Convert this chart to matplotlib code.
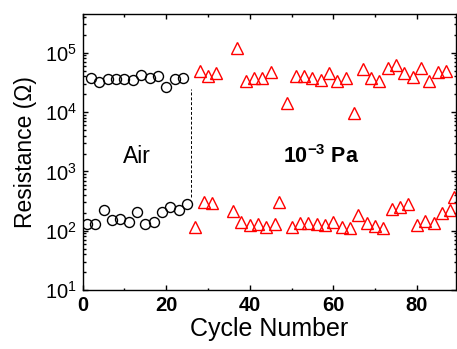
import matplotlib
matplotlib.use("Agg")
import matplotlib.pyplot as plt
from matplotlib.ticker import LogLocator, NullFormatter, MultipleLocator

plt.rcParams["font.family"] = ["Liberation Sans", "DejaVu Sans"]
plt.rcParams["mathtext.fontset"] = "custom"
plt.rcParams["mathtext.rm"] = "Liberation Sans"
plt.rcParams["mathtext.bf"] = "Liberation Sans:bold"
plt.rcParams["mathtext.default"] = "bf"

# air, high / low resistance
air_high_x = [2, 4, 6, 8, 10, 12, 14, 16, 18, 20, 22, 24]
air_high_r = [37600, 31700, 36000, 36000, 36000, 34700, 42000, 37000, 39900, 26000, 36000, 37600]
air_low_x = [1, 3, 5, 7, 9, 11, 13, 15, 17, 19, 21, 23, 25]
air_low_r = [132, 128, 221, 150, 160, 141, 207, 132, 141, 207, 251, 221, 279]

# vacuum (10^-3 Pa)
vac_high_x = [28, 30, 32, 37, 39, 41, 43, 45, 49, 51, 53, 55, 57, 59, 61, 63, 65, 67,
              69, 71, 73, 75, 77, 79, 81, 83, 85, 87]
vac_high_r = [48300, 40900, 45400, 120000, 32800, 37400, 37400, 46600, 14200, 39800,
              39800, 37400, 34100, 45400, 33600, 37400, 9800, 53000, 37400, 32800,
              55000, 62700, 45400, 38900, 55000, 32800, 46600, 50000]
vac_low_x = [27, 29, 31, 36, 38, 40, 42, 44, 46, 47, 50, 52, 54, 56, 58, 60, 62, 64,
             66, 68, 70, 72, 74, 76, 78, 80, 82, 84, 86, 88, 89]
vac_low_r = [117, 309, 290, 218, 142, 125, 128, 117, 128, 309, 117, 134, 137, 128, 125,
             142, 114, 110, 185, 137, 120, 110, 230, 249, 283, 125, 148, 134, 197, 224, 376]

split_x = 26
split_range = 370, 24000

fig = plt.figure(figsize=(4.57, 3.49), dpi=100)
ax = fig.add_axes([0.181, 0.169, 0.817, 0.791])

circ = dict(marker="o", linestyle="none", markersize=7.2, markerfacecolor="none",
            markeredgecolor="black", markeredgewidth=1.0)
tri = dict(marker="^", linestyle="none", markersize=8.5, markerfacecolor="none",
           markeredgecolor="red", markeredgewidth=1.0)

ax.plot(air_high_x, air_high_r, **circ)
ax.plot(air_low_x, air_low_r, **circ)
ax.plot(vac_high_x, vac_high_r, **tri)
ax.plot(vac_low_x, vac_low_r, **tri)

ax.vlines(split_x, *split_range, colors="black", linestyles=(0, (3, 2)), linewidth=0.7)

ax.text(13, 1390, "Air", fontsize=16.5, ha="center", va="baseline")
ax.text(57, 1390, r"$10^{-3}$ Pa", fontsize=15.5, fontweight="bold", ha="center", va="baseline")

ax.set_yscale("log")
ax.set_xlim(0, 89.4)
ax.set_ylim(10, 4.5e5)
ax.xaxis.set_major_locator(MultipleLocator(20))
ax.xaxis.set_minor_locator(MultipleLocator(10))
ax.yaxis.set_major_locator(LogLocator(base=10))
ax.yaxis.set_minor_locator(LogLocator(base=10, subs=range(2, 10)))
ax.yaxis.set_minor_formatter(NullFormatter())

ax.tick_params(which="both", direction="in", top=True, right=True, width=1)
ax.tick_params(which="major", length=3.5, labelsize=14.5, pad=4)
ax.tick_params(which="minor", length=1.8)
for lab in ax.get_xticklabels():
    lab.set_fontweight("bold")
for sp in ax.spines.values():
    sp.set_linewidth(1)

ax.set_xlabel("Cycle Number", fontsize=18, labelpad=2)
ax.set_ylabel("Resistance (Ω)", fontsize=16.5, labelpad=6)

fig.savefig("out.png", dpi=100)
